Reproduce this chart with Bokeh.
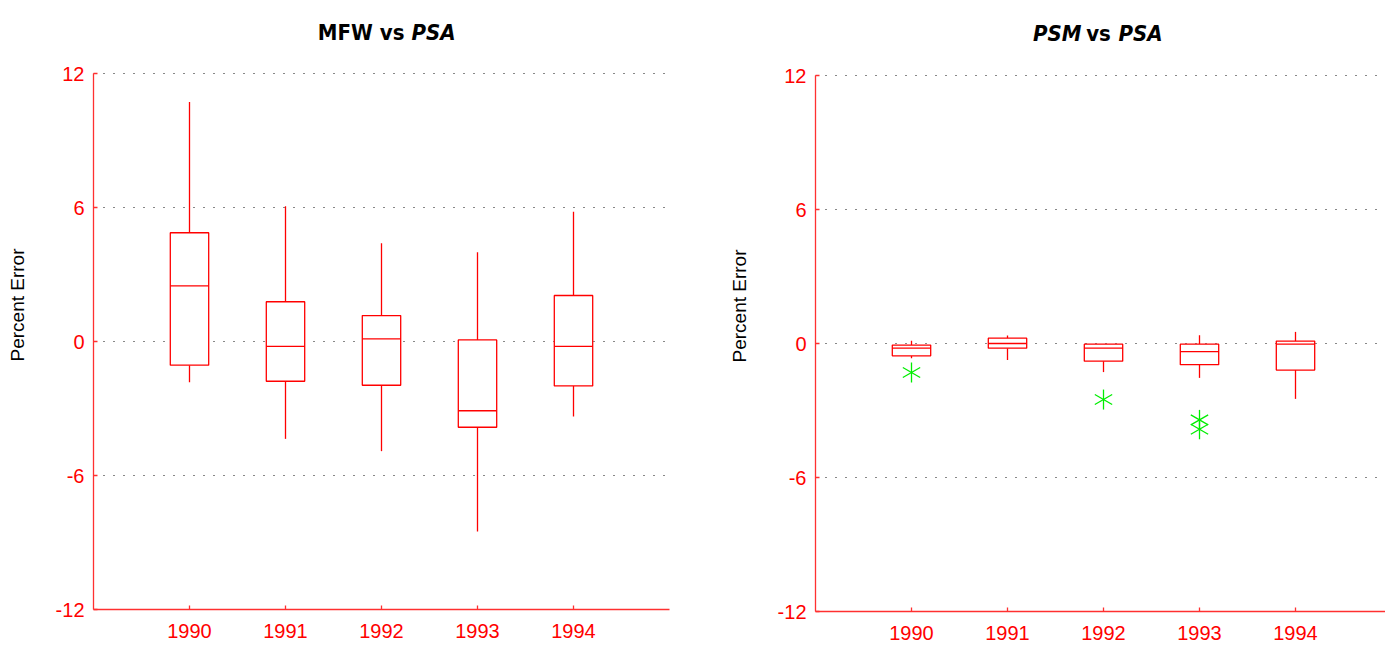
import math
from bokeh.plotting import figure
from bokeh.layouts import row
from bokeh.models import FixedTicker, Label, Range1d
from bokeh.embed import file_html
from bokeh.resources import INLINE

# ---- data ----
years = [1990, 1991, 1992, 1993, 1994]
year_labels = ["1990", "1991", "1992", "1993", "1994"]
y_ticks = [-12, -6, 0, 6, 12]
y_tick_labels = ["-12", "-6", "0", "6", "12"]
grid_ticks = [-6, 0, 6, 12]

mfw_lo = [-1.82, -4.36, -4.91, -8.51, -3.36]
mfw_q1 = [-1.06, -1.78, -1.96, -3.84, -1.99]
mfw_med = [2.49, -0.22, 0.12, -3.10, -0.22]
mfw_q3 = [4.87, 1.78, 1.16, 0.07, 2.06]
mfw_hi = [10.72, 6.06, 4.40, 4.00, 5.81]

psm_lo = [-0.66, -0.74, -1.28, -1.54, -2.48]
psm_q1 = [-0.55, -0.21, -0.79, -0.95, -1.19]
psm_med = [-0.21, 0.0, -0.21, -0.36, -0.03]
psm_q3 = [-0.07, 0.24, -0.03, -0.03, 0.11]
psm_hi = [0.12, 0.36, -0.03, 0.37, 0.52]

psm_out_year = [1990, 1992, 1993, 1993]
psm_out_val = [-1.30, -2.51, -3.42, -3.84]

BOX_W = 0.4
FONT = "Liberation Sans"
TITLE_FONT = "DejaVu Sans Condensed, Liberation Sans, sans-serif"
PX_PER_UNIT = 536 / 24
X_PX_PER_UNIT = 96


def make_panel(lo, q1, med, q3, hi, bl, br, fw, fh, bb,
               out_x=None, out_y=None):
    p = figure(frame_width=fw, frame_height=fh,
               x_range=Range1d(1989, 1989 + fw / X_PX_PER_UNIT),
               y_range=Range1d(-12, -12 + fh / PX_PER_UNIT),
               output_backend="svg", toolbar_location=None,
               min_border_left=bl, min_border_right=br,
               min_border_top=0, min_border_bottom=bb)
    p.outline_line_color = None
    p.background_fill_color = "white"
    p.border_fill_color = "white"

    # grid
    p.xgrid.visible = False
    p.ygrid.ticker = FixedTicker(ticks=grid_ticks)
    p.ygrid.grid_line_color = "#111111"
    p.ygrid.grid_line_dash = "1 9"
    p.ygrid.grid_line_width = 1

    # axes
    for ax in (p.xaxis[0], p.yaxis[0]):
        ax.axis_line_color = "#ff3030"
        ax.axis_line_width = 1.3
        ax.major_tick_line_color = "#ff3030"
        ax.major_tick_line_width = 1.3
        ax.major_tick_in = 4
        ax.major_tick_out = 0
        ax.minor_tick_line_color = None
        ax.major_label_text_color = "#ff0000"
        ax.major_label_text_font = FONT
        ax.major_label_text_font_size = "20px"
    p.xaxis.ticker = FixedTicker(ticks=years)
    p.xaxis.major_label_overrides = dict(zip(years, year_labels))
    p.xaxis.major_label_standoff = 14
    p.yaxis.ticker = FixedTicker(ticks=y_ticks)
    p.yaxis.bounds = (-12, 12)
    p.yaxis.major_label_overrides = dict(zip(y_ticks, y_tick_labels))
    p.yaxis.major_label_standoff = 9
    p.yaxis.axis_label = "Percent Error"
    p.yaxis.axis_label_text_font = FONT
    p.yaxis.axis_label_text_font_style = "normal"
    p.yaxis.axis_label_text_font_size = "19px"
    p.yaxis.axis_label_text_color = "black"
    p.yaxis.axis_label_standoff = 25

    x0 = [x - BOX_W / 2 for x in years]
    x1 = [x + BOX_W / 2 for x in years]
    # whiskers
    p.segment(x0=years, x1=years, y0=q3, y1=hi, line_color="#ff0000",
              line_width=1.3)
    p.segment(x0=years, x1=years, y0=lo, y1=q1, line_color="#ff0000",
              line_width=1.3)
    # boxes
    p.quad(left=x0, right=x1, bottom=q1, top=q3, fill_color="white",
           line_color="#ff0000", line_width=1.3)
    # medians
    p.segment(x0=x0, x1=x1, y0=med, y1=med, line_color="#ff0000",
              line_width=1.3)
    if out_x is not None:
        for ang in (math.pi / 2, math.pi / 6, -math.pi / 6):
            p.scatter(x=out_x, y=out_y, marker="dash", size=20, angle=ang,
                      line_color="#00ee00", line_width=1.3)
    return p


p1 = make_panel(mfw_lo, mfw_q1, mfw_med, mfw_q3, mfw_hi,
                93, 42, 576, 609, 37)
p2 = make_panel(psm_lo, psm_q1, psm_med, psm_q3, psm_hi,
                104, 0, 570, 611, 35, psm_out_year, psm_out_val)


def title_piece(p, text, x, y, align, style):
    p.add_layout(Label(x=x, y=y, x_units="screen", y_units="screen",
                       text=text, text_align=align, text_baseline="alphabetic",
                       text_font=TITLE_FONT, text_font_style=style,
                       text_font_size="22px", text_color="black"))


title_piece(p1, "MFW vs", 311, 577, "right", "bold")
title_piece(p1, "PSA", 318, 577, "left", "bold italic")
title_piece(p2, "PSM", 266, 578, "right", "bold italic")
title_piece(p2, "vs", 283, 578, "center", "bold")
title_piece(p2, "PSA", 303, 578, "left", "bold italic")

layout = row(p1, p2)
open("out.html", "w").write(file_html(layout, INLINE))
